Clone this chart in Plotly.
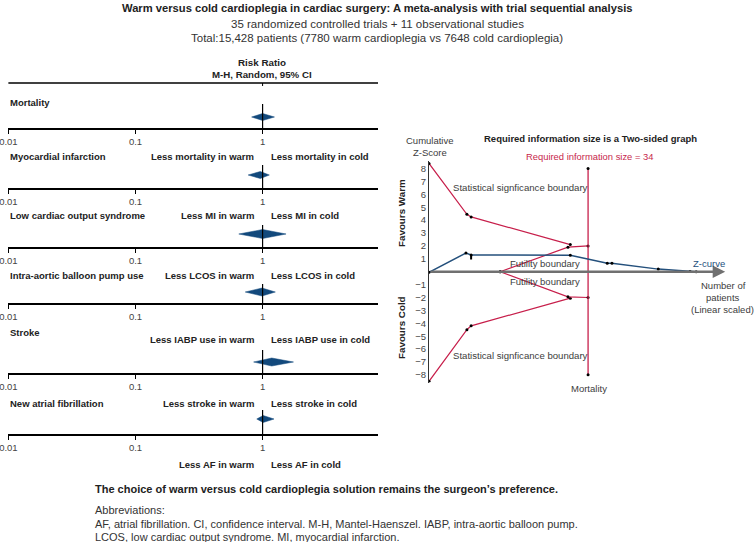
import plotly.graph_objects as go

# ---- forest plot data (risk ratio, warm vs cold) ----
outcomes = ["Mortality", "Myocardial infarction", "Low cardiac output syndrome",
            "Intra-aortic balloon pump use", "Stroke", "New atrial fibrillation"]
short_names = ["mortality", "MI", "LCOS", "IABP use", "stroke", "AF"]
rr = [1.00, 0.96, 1.00, 0.99, 1.18, 1.01]
ci_low = [0.82, 0.77, 0.65, 0.73, 0.85, 0.90]
ci_high = [1.24, 1.13, 1.53, 1.26, 1.75, 1.23]
tick_vals = [0.01, 0.1, 1]
tick_text = ["0.01", "0.1", "1"]

# ---- trial sequential analysis (mortality) ----
ris = 34
z_x = [0, 7.9, 9.0, 30.2, 38.1, 39.1, 49.0, 55.8, 57.1]
z_val = [-0.05, 1.45, 1.3, 1.28, 0.65, 0.65, 0.2, 0.02, 0.0]
zbar_x = [9.0, 9.0]
zbar_z = [1.3, 0.95]
sig_x = [0, 8.1, 9.0, 30.2]
sig_upper = [8.4, 4.45, 4.25, 2.1]
sig_lower = [-8.5, -4.5, -4.2, -2.05]
fut_x = [15.2, 29.7, 34]
fut_upper = [0, 1.9, 2.0]
fut_lower = [0, -1.95, -2.0]
ris_z = [8, -8]
z_ticks = [-8, -7, -6, -5, -4, -3, -2, -1, 1, 2, 3, 4, 5, 6, 7, 8]

W, H = 754, 542
FONT = "Liberation Sans, Arial, sans-serif"
NAVY = "#12497c"
RED = "#c71f4b"
ZBLUE = "#24507c"
GREY = "#3c3c3c"


def fx(p):
    return p / W


def fy(p):
    return 1 - p / H


# pixel rows of each forest panel
axis_px = [128, 188, 247, 303, 373, 434]
diamond_px = [117, 175, 234, 292, 362, 419]
vtop_px = [104, 165, 225, 284, 350, 410]
label_px = [102, 157, 216, 275, 332, 403]
effect_px = [157, 216, 275, 339, 403, 464]
half_h = [3.5, 3.5, 4.5, 4, 4, 3.5]
PANEL_H = 50

fig = go.Figure()
layout = dict(
    width=W, height=H, margin=dict(l=0, r=0, t=0, b=0, autoexpand=False),
    autosize=False, paper_bgcolor="white", plot_bgcolor="white", showlegend=False,
    font=dict(family=FONT, color="#222"),
)
ann = []

for i in range(6):
    n = "" if i == 0 else str(i + 1)
    xa, ya = "x" + n, "y" + n
    layout["xaxis" + n] = dict(
        type="log", range=[-2.003, 0.908], domain=[fx(8), fx(378)], anchor=ya,
        showline=True, linecolor="black", linewidth=1.5, ticks="outside",
        ticklen=4, tickcolor="black", tickwidth=1, tickvals=tick_vals,
        ticktext=tick_text, tickfont=dict(size=9.5, color="#444"),
        ticklabeloverflow="allow", automargin=False,
        showgrid=False, zeroline=False, fixedrange=True,
    )
    layout["yaxis" + n] = dict(
        domain=[fy(axis_px[i]), fy(axis_px[i] - PANEL_H)], range=[0, PANEL_H],
        anchor=xa, visible=False, fixedrange=True, automargin=False,
    )
    yc = axis_px[i] - diamond_px[i]
    h = half_h[i]
    fig.add_trace(go.Scatter(
        x=[ci_low[i], rr[i], ci_high[i], rr[i], ci_low[i]],
        y=[yc, yc + h, yc, yc - h, yc], xaxis=xa, yaxis=ya,
        mode="lines", fill="toself", fillcolor=NAVY,
        line=dict(color=NAVY, width=0.5), hoverinfo="skip",
    ))
    fig.add_trace(go.Scatter(
        x=[1, 1], y=[0, axis_px[i] - vtop_px[i]], xaxis=xa, yaxis=ya,
        mode="lines", line=dict(color="black", width=1.2), hoverinfo="skip",
    ))
    if i == 0:
        top = axis_px[0] - 83
        fig.add_trace(go.Scatter(
            x=[0.01, 10 ** 0.908], y=[top, top], xaxis=xa, yaxis=ya,
            mode="lines", line=dict(color="black", width=1.5), hoverinfo="skip",
        ))
        fig.add_trace(go.Scatter(
            x=[1, 1], y=[top, top - 3], xaxis=xa, yaxis=ya,
            mode="lines", line=dict(color="black", width=1), hoverinfo="skip",
        ))
    ann.append(dict(x=fx(8), y=fy(label_px[i]), text="<b>%s</b>" % outcomes[i],
                    xanchor="left", font=dict(size=9.5)))
    ann.append(dict(x=fx(256), y=fy(effect_px[i]),
                    text="<b>Less %s in warm</b>" % short_names[i],
                    xanchor="right", font=dict(size=9.5)))
    ann.append(dict(x=fx(269), y=fy(effect_px[i]),
                    text="<b>Less %s in cold</b>" % short_names[i],
                    xanchor="left", font=dict(size=9.5)))

# ---- TSA panel ----
layout["xaxis7"] = dict(domain=[fx(429), fx(735)], range=[0, 65.4], anchor="y7",
                        visible=False, fixedrange=True, automargin=False)
layout["yaxis7"] = dict(
    domain=[fy(382.6), fy(160.8)], range=[-8.6, 8.6], anchor="x7",
    showline=True, linecolor="#333", linewidth=1, ticks="",
    tickvals=z_ticks, tickfont=dict(size=9.5, color="#444"),
    showgrid=False, zeroline=False, fixedrange=True, automargin=False,
)

for xs, zs in [(sig_x, sig_upper), (sig_x, sig_lower), (fut_x, fut_upper), (fut_x, fut_lower)]:
    fig.add_trace(go.Scatter(
        x=xs, y=zs, xaxis="x7", yaxis="y7", mode="lines+markers",
        line=dict(color=RED, width=1.2), marker=dict(color="black", size=3),
        hoverinfo="skip",
    ))
fig.add_trace(go.Scatter(
    x=[ris, ris], y=ris_z, xaxis="x7", yaxis="y7", mode="lines+markers",
    line=dict(color=RED, width=1.3), marker=dict(color="black", size=3),
    hoverinfo="skip",
))
fig.add_trace(go.Scatter(
    x=z_x, y=z_val, xaxis="x7", yaxis="y7", mode="lines+markers",
    line=dict(color=ZBLUE, width=1.5), marker=dict(color="black", size=3),
    hoverinfo="skip",
))
fig.add_trace(go.Scatter(
    x=zbar_x, y=zbar_z, xaxis="x7", yaxis="y7", mode="lines",
    line=dict(color="black", width=2), hoverinfo="skip",
))

# zero axis with arrow
ann.append(dict(x=63.3, y=0, ax=0, ay=0, xref="x7", yref="y7", axref="x7", ayref="y7",
                text="", showarrow=True, arrowhead=2, arrowsize=1, arrowwidth=2.5,
                arrowcolor="#707070"))

ann += [
    dict(x=0.5, y=fy(8), text="<b>Warm versus cold cardioplegia in cardiac surgery: "
         "A meta-analysis with trial sequential analysis</b>", font=dict(size=11.2)),
    dict(x=0.5, y=fy(24), text="35 randomized controlled trials + 11 observational studies",
         font=dict(size=11.5, color="#333")),
    dict(x=0.5, y=fy(38), text="Total:15,428 patients (7780 warm cardioplegia vs 7648 cold cardioplegia)",
         font=dict(size=11.5, color="#333")),
    dict(x=fx(262), y=fy(62), text="<b>Risk Ratio</b>", font=dict(size=9.8)),
    dict(x=fx(262), y=fy(74), text="<b>M-H, Random, 95% CI</b>", font=dict(size=9.7)),
    dict(x=fx(93), y=fy(489), xanchor="left", font=dict(size=11),
         text="<b>The choice of warm versus cold cardioplegia solution remains the surgeon\u2019s preference.</b>"),
    dict(x=fx(93), y=fy(510), xanchor="left", font=dict(size=11, color="#333"),
         text="Abbreviations:"),
    dict(x=fx(93), y=fy(524), xanchor="left", font=dict(size=11, color="#333"),
         text="AF, atrial fibrillation. CI, confidence interval. M-H, Mantel-Haenszel. "
              "IABP, intra-aortic balloon pump."),
    dict(x=fx(93), y=fy(536.5), xanchor="left", font=dict(size=11, color="#333"),
         text="LCOS, low cardiac output syndrome. MI, myocardial infarction."),
    # TSA texts
    dict(x=fx(430), y=fy(140), text="Cumulative", font=dict(size=9.5, color=GREY)),
    dict(x=fx(430), y=fy(152), text="Z-Score", font=dict(size=9.5, color=GREY)),
    dict(x=fx(590), y=fy(138), text="<b>Required information size is a Two-sided graph</b>",
         font=dict(size=9.5, color="#222")),
    dict(x=fx(589), y=fy(157), text="Required information size = 34",
         font=dict(size=9.4, color=RED)),
    dict(x=fx(520), y=fy(187), text="Statistical signficance boundary",
         font=dict(size=9.6, color=GREY)),
    dict(x=fx(520), y=fy(355), text="Statistical signficance boundary",
         font=dict(size=9.6, color=GREY)),
    dict(x=fx(545), y=fy(263), text="Futility boundary", font=dict(size=9.5, color=GREY)),
    dict(x=fx(545), y=fy(281), text="Futility boundary", font=dict(size=9.5, color=GREY)),
    dict(x=fx(709), y=fy(263), text="Z-curve", font=dict(size=9.5, color=ZBLUE)),
    dict(x=fx(723), y=fy(285), text="Number of", font=dict(size=9.5, color=GREY)),
    dict(x=fx(723), y=fy(297), text="patients", font=dict(size=9.5, color=GREY)),
    dict(x=fx(722), y=fy(309), text="(Linear scaled)", font=dict(size=9.5, color=GREY)),
    dict(x=fx(589), y=fy(388), text="Mortality", font=dict(size=9.5, color=GREY)),
    dict(x=fx(401), y=fy(213), text="<b>Favours Warm</b>", textangle=-90,
         font=dict(size=9.8, color="#222")),
    dict(x=fx(401), y=fy(328), text="<b>Favours Cold</b>", textangle=-90,
         font=dict(size=9.8, color="#222")),
]

for a in ann:
    a.setdefault("xref", "paper")
    a.setdefault("yref", "paper")
    a.setdefault("showarrow", False)
    a.setdefault("yanchor", "middle")
    a.setdefault("xanchor", "center")

layout["annotations"] = ann
fig.update_layout(**layout)

fig.write_html("out.html", config={"displayModeBar": False},
               post_script="document.body.style.margin = '0px';")
